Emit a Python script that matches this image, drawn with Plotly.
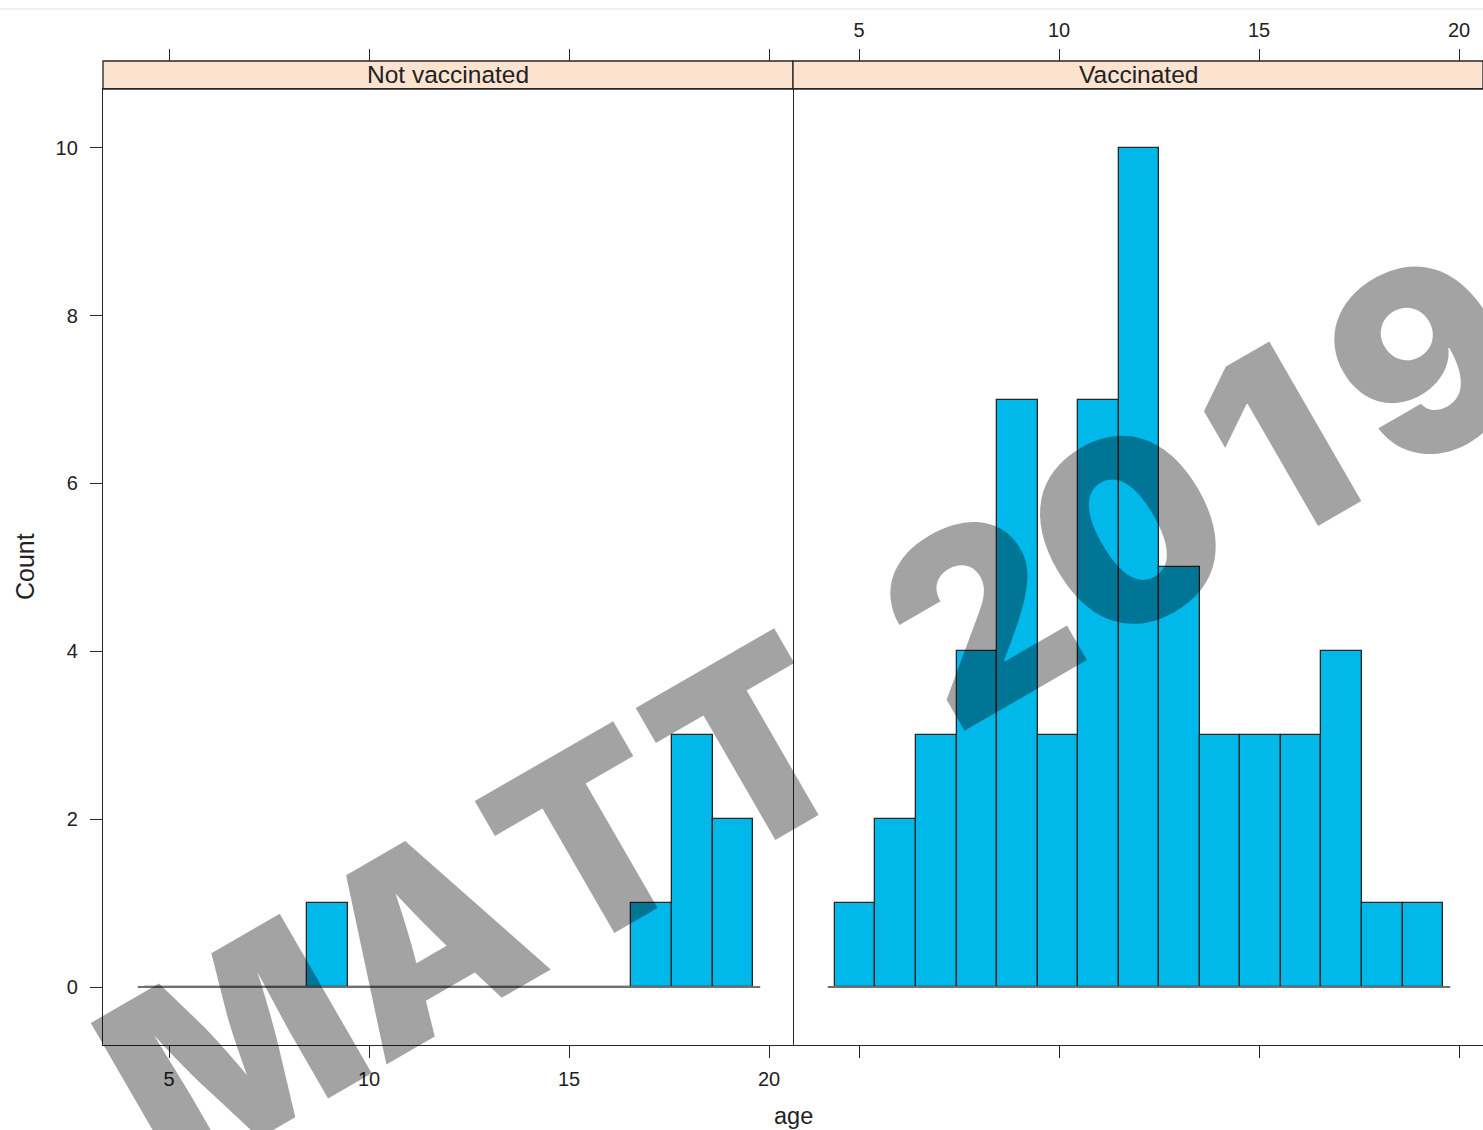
import math
import plotly.graph_objects as go

# Histogram breaks shared by both panels (age in years)
bin_edges = [4.4, 5.41, 6.43, 7.44, 8.45, 9.47, 10.48, 11.49, 12.51,
             13.52, 14.53, 15.55, 16.56, 17.57, 18.59, 19.6]
panel_names = ["Not vaccinated", "Vaccinated"]
counts_not_vaccinated = [0, 0, 0, 0, 1, 0, 0, 0, 0, 0, 0, 0, 1, 3, 2]
counts_vaccinated = [1, 2, 3, 4, 7, 3, 7, 10, 5, 3, 3, 3, 4, 1, 1]
x_ticks = [5, 10, 15, 20]
y_ticks = [0, 2, 4, 6, 8, 10]
x_title = "age"
y_title = "Count"
watermark = "MATT 2019"

# ---- page geometry (pixels) ----
W, H = 1483, 1130
ML, MR, MT, MB = 103, 0, 61, 85
PW, PH = W - ML - MR, H - MT - MB
STRIP_PX = 28
panel_top = 1 - STRIP_PX / PH

X_RANGE = [3.35, 20.6]
Y_RANGE = [-0.69, 10.70]

BAR_FILL = "#00b8e9"
EDGE = "#262626"
TEXT = "#222222"
FONT = "Liberation Sans, Arial, sans-serif"

centers = [(a + b) / 2 for a, b in zip(bin_edges[:-1], bin_edges[1:])]
widths = [b - a for a, b in zip(bin_edges[:-1], bin_edges[1:])]

fig = go.Figure()

for i, counts in enumerate([counts_not_vaccinated, counts_vaccinated]):
    xa = "x" if i == 0 else "x2"
    ya = "y" if i == 0 else "y2"
    # baseline under the bars
    fig.add_trace(go.Scatter(
        x=[bin_edges[0] - 0.18, bin_edges[-1] + 0.18], y=[0, 0],
        mode="lines", line=dict(color="#707070", width=2),
        xaxis=xa, yaxis=ya, hoverinfo="skip", showlegend=False))
    fig.add_trace(go.Bar(
        x=centers, y=counts, width=widths, name=panel_names[i],
        marker=dict(color=BAR_FILL, line=dict(color=EDGE, width=1.3)),
        xaxis=xa, yaxis=ya, showlegend=False))

# invisible traces so the top tick axes are drawn
fig.add_trace(go.Scatter(x=[10], y=[0], xaxis="x3", yaxis="y", mode="markers",
                         marker=dict(opacity=0), hoverinfo="skip", showlegend=False))
fig.add_trace(go.Scatter(x=[10], y=[0], xaxis="x4", yaxis="y2", mode="markers",
                         marker=dict(opacity=0), hoverinfo="skip", showlegend=False))

axis_common = dict(range=X_RANGE, tickvals=x_ticks, ticks="outside", ticklen=12,
                   tickwidth=1.2, tickcolor=EDGE, showgrid=False, zeroline=False,
                   ticklabelstandoff=4,
                   tickfont=dict(family=FONT, size=20, color=TEXT))

fig.update_layout(
    width=W, height=H,
    margin=dict(l=ML, r=MR, t=MT, b=MB),
    paper_bgcolor="white", plot_bgcolor="white",
    bargap=0,
    xaxis=dict(domain=[0, 0.5], anchor="y", showticklabels=True,
               showline=True, linecolor=EDGE, linewidth=1.3, mirror=True, **axis_common),
    xaxis2=dict(domain=[0.5, 1], anchor="y2", showticklabels=False,
                showline=True, linecolor=EDGE, linewidth=1.3, mirror=True, **axis_common),
    xaxis3=dict(overlaying="x", side="top", anchor="free", position=1.0,
                showticklabels=False, showline=False, **axis_common),
    xaxis4=dict(overlaying="x2", side="top", anchor="free", position=1.0,
                showticklabels=True, showline=False, **axis_common),
    yaxis=dict(domain=[0, panel_top], anchor="x", range=Y_RANGE, tickvals=y_ticks,
               ticks="outside", ticklen=12, tickwidth=1.2, tickcolor=EDGE,
               ticklabelstandoff=8,
               showline=True, linecolor=EDGE, linewidth=1.3, mirror=True,
               showgrid=False, zeroline=False,
               tickfont=dict(family=FONT, size=20, color=TEXT)),
    yaxis2=dict(domain=[0, panel_top], anchor="x2", range=Y_RANGE, matches="y",
                showticklabels=False, ticks="", showline=False,
                showgrid=False, zeroline=False),
)

# strips with panel names
for i, name in enumerate(panel_names):
    x0, x1 = (0, 0.5) if i == 0 else (0.5, 1)
    fig.add_shape(type="rect", xref="paper", yref="paper", x0=x0, x1=x1,
                  y0=panel_top, y1=1, fillcolor="#fbe3cf",
                  line=dict(color=EDGE, width=1.3), layer="below")
    fig.add_annotation(xref="paper", yref="paper", x=(x0 + x1) / 2,
                       y=(panel_top + 1) / 2, text=name, showarrow=False,
                       xanchor="center", yanchor="middle",
                       font=dict(family=FONT, size=24.5, color=TEXT))

# axis titles
fig.add_annotation(xref="paper", yref="paper", x=(793 - ML) / PW, y=(H - MB - 1116) / PH,
                   text=x_title, showarrow=False, xanchor="center", yanchor="middle",
                   font=dict(family=FONT, size=23.5, color=TEXT))
fig.add_annotation(xref="paper", yref="paper", x=(25 - ML) / PW, y=(H - MB - 567) / PH,
                   text=y_title, showarrow=False, textangle=-90,
                   xanchor="center", yanchor="middle",
                   font=dict(family=FONT, size=25, color=TEXT))

# faint rule across the top of the page
fig.add_shape(type="line", xref="paper", yref="paper",
              x0=-ML / PW, x1=1, y0=(H - MB - 9) / PH, y1=(H - MB - 9) / PH,
              line=dict(color="#ececec", width=1.5))

# ---- diagonal watermark, one glyph at a time along a rotated baseline ----
advance = {"M": 0.944, "A": 0.778, "T": 0.722, " ": 0.333,
           "2": 0.667, "0": 0.667, "1": 0.667, "9": 0.667}
EM = 257              # em size of the lettering in px
ANGLE = 30            # degrees, counter-clockwise
ANCHOR = (958, 735)   # baseline point where the "2" begins
ux, uy = math.cos(math.radians(ANGLE)), -math.sin(math.radians(ANGLE))
upx, upy = -math.sin(math.radians(ANGLE)), -math.cos(math.radians(ANGLE))
lift = 0.36 * EM
s = -0.03 * EM - sum(advance[c] for c in watermark[:watermark.index("2")]) * EM
for ch in watermark:
    a = advance[ch] * EM
    if ch != " ":
        sc = s + a / 2
        px = ANCHOR[0] + sc * ux + lift * upx
        py = ANCHOR[1] + sc * uy + lift * upy
        fig.add_annotation(xref="paper", yref="paper",
                           x=(px - ML) / PW, y=(H - MB - py) / PH,
                           text=ch, showarrow=False, textangle=-ANGLE,
                           xanchor="center", yanchor="middle",
                           font=dict(family="Inter, Roboto, sans-serif", size=253,
                                     color="rgba(0,0,0,0.36)", weight=900))
    s += a

fig.write_html("out.html")
